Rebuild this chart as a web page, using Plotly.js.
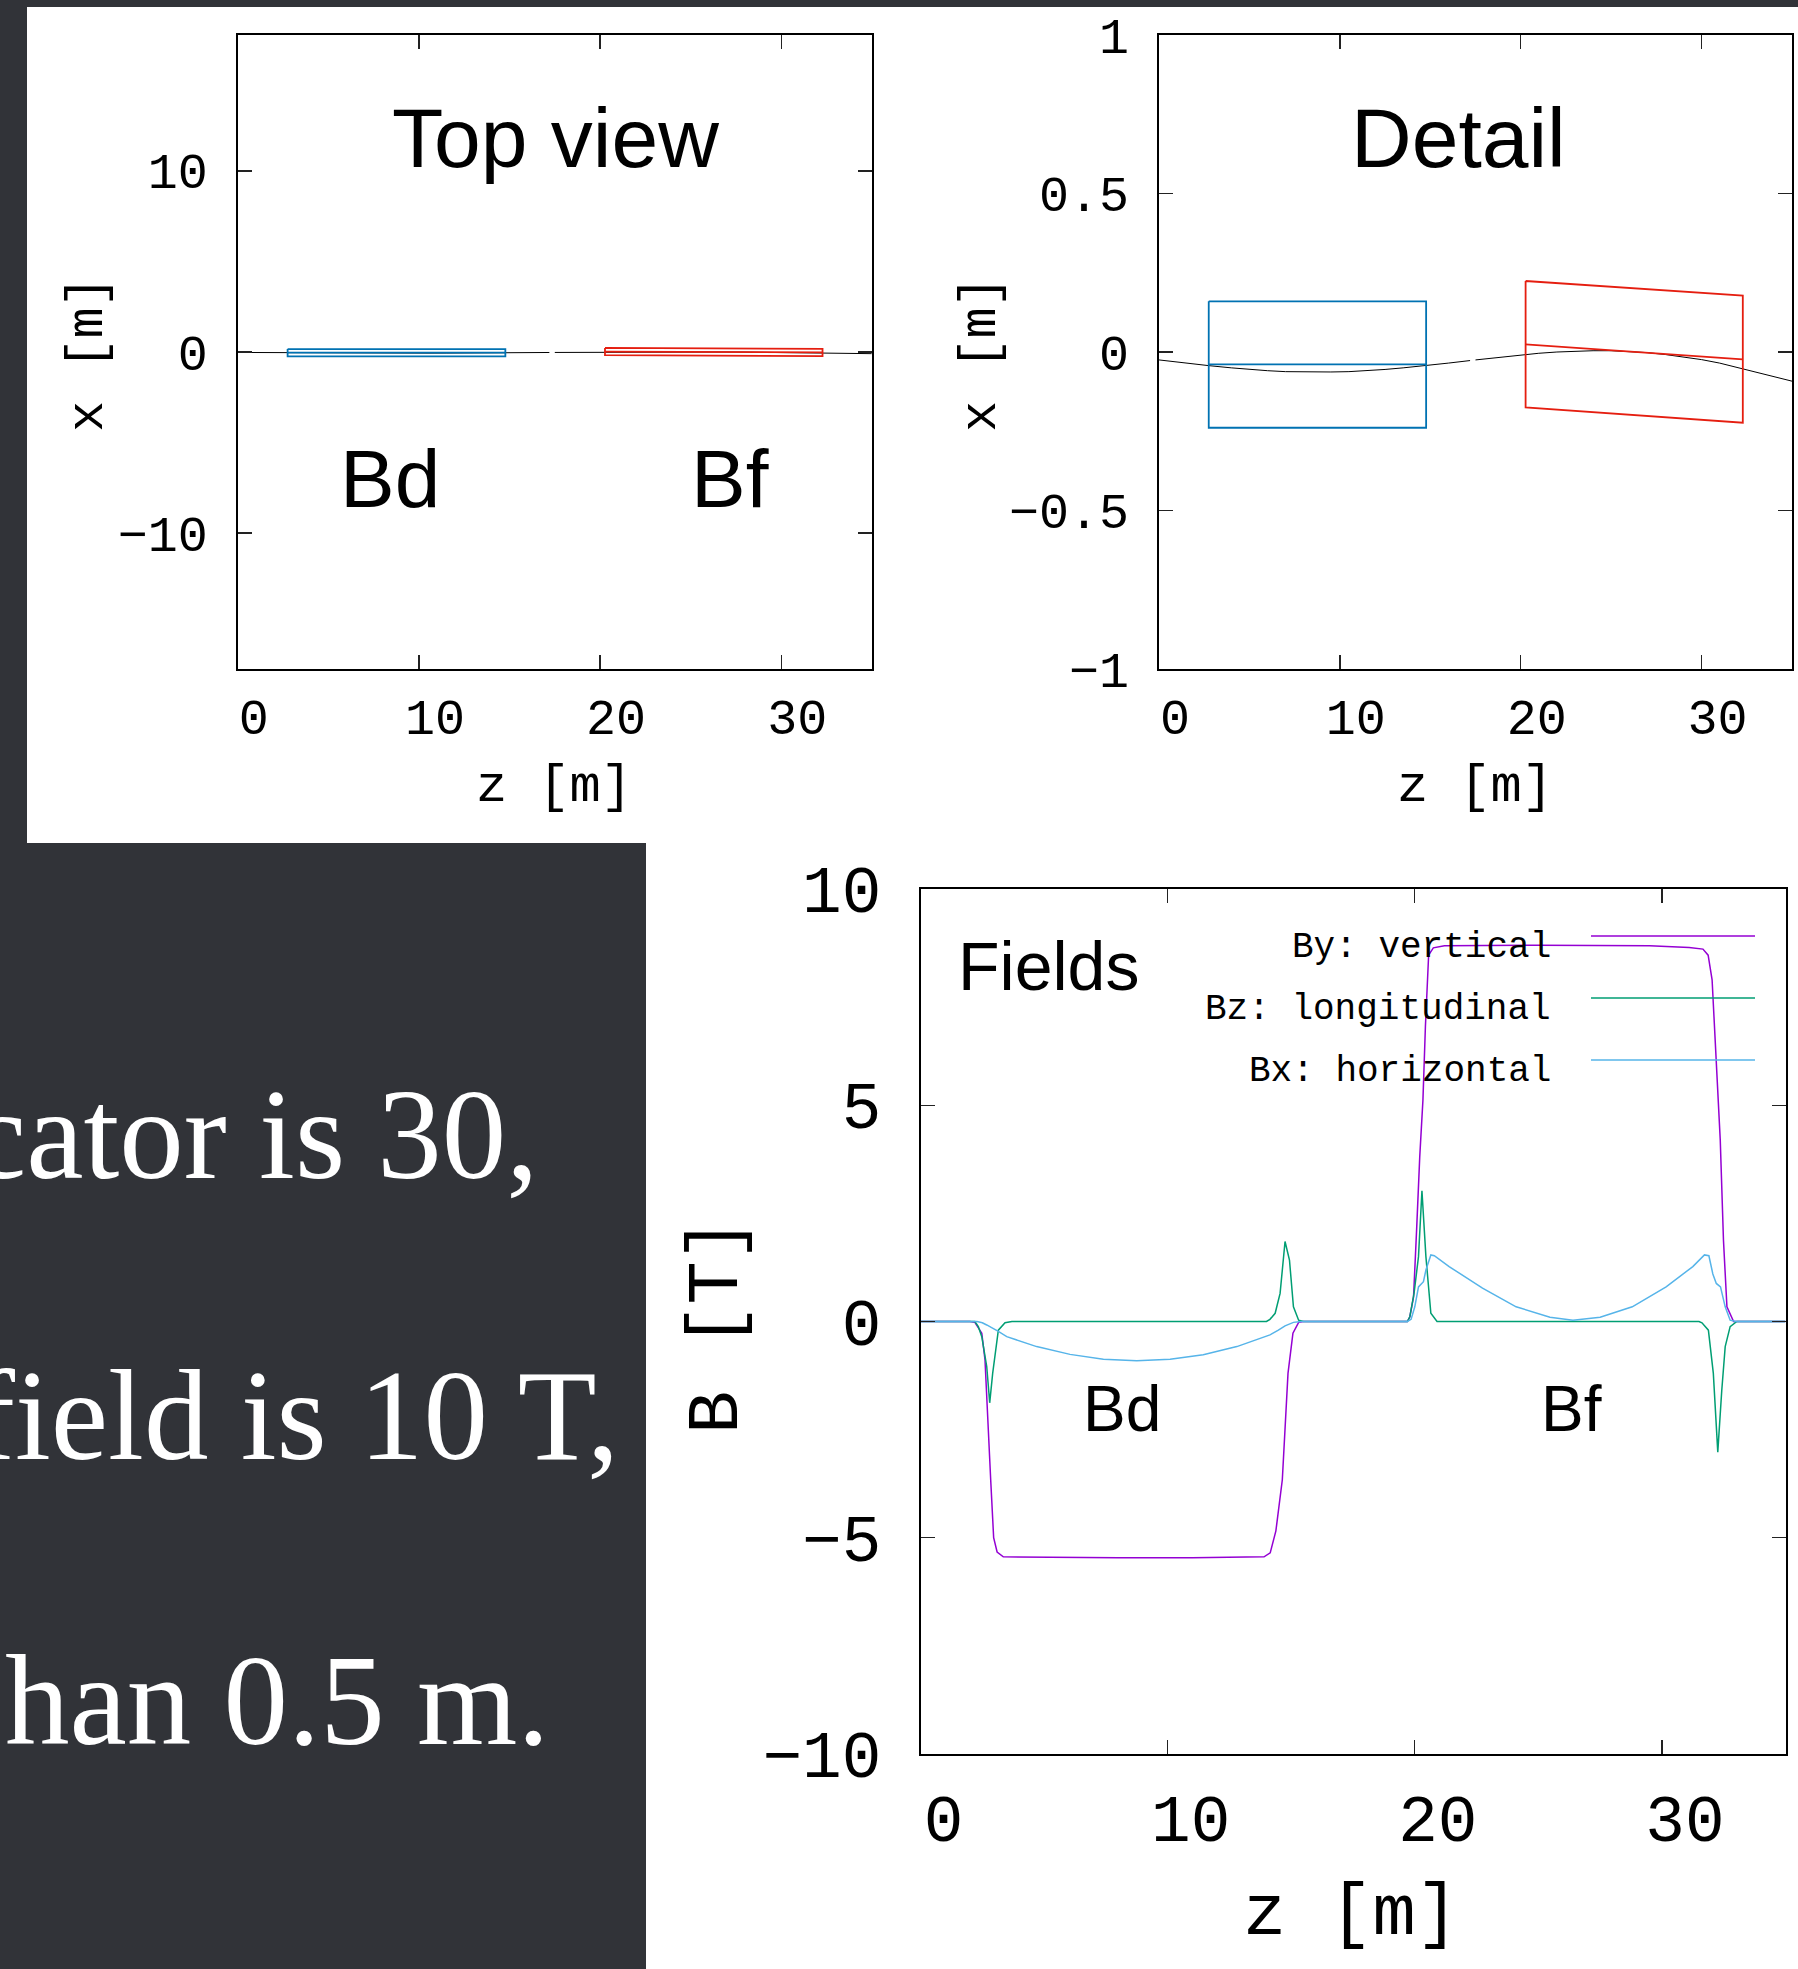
<!DOCTYPE html>
<html>
<head>
<meta charset="utf-8">
<script src="https://cdn.plot.ly/plotly-3.0.1.min.js"></script>
<style>html,body{margin:0;padding:0;background:#313338;}#chart{width:1798px;height:1969px;}</style>
</head>
<body>
<div id="chart"></div>
<script>
// ---------- data ----------
const zTicks = [0, 10, 20, 30];
const topViewYTicks = [-10, 0, 10];
const detailYTicks = [-1, -0.5, 0, 0.5, 1];
const fieldYTicks = [-10, -5, 0, 5, 10];

// reference trajectory x(z) [m]
const trajZ = [0, 1, 2, 2.75, 4, 5, 6, 7, 8, 8.75, 9.5, 10.5, 11.5, 12.5, 13.5, 14.77, 16, 17.2, null, 17.5, 19, 20.27, 21, 22, 23, 24, 25, 26, 27, 28, 29, 30, 31, 32.28, 33.5, 35];
const trajX = [-0.025, -0.032, -0.038, -0.043, -0.050, -0.055, -0.059, -0.062, -0.063, -0.064, -0.063, -0.062, -0.059, -0.055, -0.050, -0.043, -0.035, -0.027, null, -0.025, -0.016, -0.008, -0.004, 0.000, 0.003, 0.004, 0.004, 0.002, -0.002, -0.008, -0.015, -0.024, -0.035, -0.053, -0.071, -0.092];

// magnet outlines
const bdBoxZ = [2.75, 14.77, 14.77, 2.75, 2.75];
const bdBoxX = [0.160, 0.160, -0.239, -0.239, 0.160];
const bdAxisZ = [2.75, 14.77];
const bdAxisX = [-0.039, -0.039];
const bfBoxZ = [20.27, 32.28, 32.28, 20.27, 20.27];
const bfBoxX = [0.224, 0.178, -0.223, -0.175, 0.224];
const bfAxisZ = [20.27, 32.28];
const bfAxisX = [0.024, -0.023];

// fields B [T] along z
const byZ = [0, 2.0, 2.2, 2.48, 2.61, 2.74, 2.84, 2.96, 3.1, 3.35, 5, 8, 11, 13.9, 14.15, 14.38, 14.64, 14.78, 14.87, 15.07, 15.3, 15.5, 19.7, 19.8, 19.95, 20.08, 20.2, 20.33, 20.43, 20.56, 20.75, 21.2, 25, 29.5, 31.1, 31.66, 31.87, 32.03, 32.14, 32.24, 32.36, 32.49, 32.63, 32.9, 35];
const byB = [0, 0, -0.02, -0.27, -0.89, -2.28, -3.66, -5.0, -5.33, -5.44, -5.45, -5.46, -5.46, -5.44, -5.35, -4.84, -3.66, -2.3, -1.2, -0.27, -0.02, 0, 0, 0.11, 0.57, 2.2, 3.8, 5.12, 6.82, 8.47, 8.64, 8.69, 8.70, 8.69, 8.65, 8.61, 8.47, 7.9, 6.58, 5.35, 4.2, 1.88, 0.34, 0, 0];

const bzZ = [0, 2.2, 2.34, 2.48, 2.68, 2.80, 2.92, 3.02, 3.15, 3.42, 3.7, 14.0, 14.14, 14.35, 14.55, 14.75, 14.93, 15.09, 15.3, 15.5, 19.7, 19.8, 19.97, 20.15, 20.29, 20.45, 20.65, 20.9, 31.5, 31.62, 31.88, 32.08, 32.26, 32.42, 32.56, 32.76, 33.03, 35];
const bzB = [0, 0, -0.12, -0.35, -1.04, -1.88, -1.2, -0.70, -0.2, -0.03, 0, 0, 0.05, 0.19, 0.65, 1.85, 1.42, 0.34, 0.03, 0, 0, 0.11, 0.65, 1.5, 3.02, 1.5, 0.19, 0, 0, -0.03, -0.2, -1.2, -3.02, -1.6, -0.58, -0.12, 0, 0];

const bxZ = [0, 2.29, 2.5, 2.68, 3.15, 3.49, 4.70, 6.05, 7.40, 8.75, 10.1, 11.44, 12.8, 14.14, 14.48, 14.75, 15.09, 15.4, 19.7, 19.85, 20.0, 20.15, 20.35, 20.45, 20.65, 20.79, 21.39, 22.74, 24.1, 25.47, 26.4, 27.5, 28.8, 30.17, 31.25, 31.72, 31.9, 32.06, 32.2, 32.37, 32.56, 32.76, 33.0, 35];
const bxB = [0, 0, -0.03, -0.08, -0.23, -0.35, -0.58, -0.76, -0.87, -0.91, -0.87, -0.77, -0.58, -0.31, -0.2, -0.1, -0.02, 0, 0, 0.05, 0.34, 0.8, 0.92, 1.19, 1.54, 1.52, 1.27, 0.77, 0.34, 0.1, 0.03, 0.1, 0.34, 0.8, 1.27, 1.54, 1.52, 1.1, 0.88, 0.8, 0.34, 0.03, 0, 0];

const fieldNames = ['By: vertical', 'Bz: longitudinal', 'Bx: horizontal'];
const slideLines = ['cator is 30,', 'field is 10 T,', 'han 0.5 m.'];

// ---------- styles ----------
const W = 1798, H = 1969;
const px = v => v / W;
const py = v => 1 - v / H;
const DARK = '#313338';
const C_BY = '#9400d3', C_BZ = '#009e73', C_BX = '#56b4e9';
const C_BD = '#0072b2', C_BF = '#e51e10';
const MONO = '"Courier New", Courier, "Nimbus Mono PS", FreeMono, "Liberation Mono", monospace';
const TICKF = '"Liberation Mono", "DejaVu Sans Mono", monospace';
const SANS = '"Liberation Sans", Arial, Helvetica, sans-serif';
const SERIF = '"Liberation Serif", Palatino, serif';

function line(x, y, color, width, xa, ya) {
  return {x: x, y: y, mode: 'lines', type: 'scatter', xaxis: xa, yaxis: ya,
    line: {color: color, width: width}, showlegend: false, hoverinfo: 'skip', connectgaps: false};
}

const traces = [];
[['x', 'y'], ['x2', 'y2']].forEach(([xa, ya]) => {
  traces.push(line(trajZ, trajX, '#000', 1, xa, ya));
  traces.push(line(bdBoxZ, bdBoxX, C_BD, 1.8, xa, ya));
  traces.push(line(bdAxisZ, bdAxisX, C_BD, 1.8, xa, ya));
  traces.push(line(bfBoxZ, bfBoxX, C_BF, 1.8, xa, ya));
  traces.push(line(bfAxisZ, bfAxisX, C_BF, 1.8, xa, ya));
});
traces.push(line(byZ, byB, C_BY, 1.5, 'x3', 'y3'));
traces.push(line(bzZ, bzB, C_BZ, 1.5, 'x3', 'y3'));
traces.push(line(bxZ, bxB, C_BX, 1.5, 'x3', 'y3'));

function xAxis(dom, anchor, fs, shift, stand) {
  return {domain: dom, anchor: anchor, range: [0, 35], tickvals: zTicks,
    ticks: 'inside', ticklen: 14, tickwidth: 1.3, tickcolor: '#222',
    showline: true, linecolor: '#000', linewidth: 2, mirror: 'ticks',
    showgrid: false, zeroline: false, fixedrange: true,
    tickfont: {family: TICKF, size: fs, color: '#000'},
    ticklabelshift: shift, ticklabelstandoff: stand};
}
function yAxis(dom, anchor, range, tv, fs, stand) {
  return {domain: dom, anchor: anchor, range: range, tickvals: tv,
    ticks: 'inside', ticklen: 14, tickwidth: 1.3, tickcolor: '#222',
    showline: true, linecolor: '#000', linewidth: 2, mirror: 'ticks',
    showgrid: false, zeroline: false, fixedrange: true,
    tickfont: {family: TICKF, size: fs, color: '#000'},
    ticklabelstandoff: stand};
}

const topDom = [py(669), py(35)];
const layout = {
  width: W, height: H,
  margin: {l: 0, r: 0, t: 0, b: 0, pad: 0},
  paper_bgcolor: DARK, plot_bgcolor: '#fff',
  showlegend: false,
  xaxis: xAxis([px(237.8), px(871.8)], 'y', 50, 16, 3),
  yaxis: yAxis(topDom, 'x', [-17.5, 17.5], topViewYTicks, 50, 18),
  xaxis2: xAxis([px(1159), px(1792)], 'y2', 50, 16, 3),
  yaxis2: yAxis(topDom, 'x2', [-1, 1], detailYTicks, 50, 18),
  xaxis3: xAxis([px(920.5), px(1785.5)], 'y3', 66, 23, 6),
  yaxis3: yAxis([py(1754), py(889)], 'x3', [-10, 10], fieldYTicks, 66, 24),
  shapes: [
    {type: 'rect', xref: 'paper', yref: 'paper', x0: px(27), x1: 1, y0: py(843), y1: py(7), fillcolor: '#fff', line: {width: 0}, layer: 'below'},
    {type: 'rect', xref: 'paper', yref: 'paper', x0: px(646), x1: 1, y0: 0, y1: py(843), fillcolor: '#fff', line: {width: 0}, layer: 'below'},
    {type: 'line', xref: 'paper', yref: 'paper', x0: px(1591), x1: px(1755), y0: py(936), y1: py(936), line: {color: C_BY, width: 1.5}},
    {type: 'line', xref: 'paper', yref: 'paper', x0: px(1591), x1: px(1755), y0: py(998), y1: py(998), line: {color: C_BZ, width: 1.5}},
    {type: 'line', xref: 'paper', yref: 'paper', x0: px(1591), x1: px(1755), y0: py(1060), y1: py(1060), line: {color: C_BX, width: 1.5}}
  ],
  annotations: []
};

function ann(text, x, y, size, family, opts) {
  return Object.assign({text: text, xref: 'paper', yref: 'paper', x: px(x), y: py(y),
    xanchor: 'center', yanchor: 'middle', showarrow: false,
    font: {family: family, size: size, color: '#000'}}, opts || {});
}
const A = layout.annotations;
// panel labels
A.push(ann('Top view', 555, 138, 84, SANS));
A.push(ann('Bd', 390, 479, 82, SANS));
A.push(ann('Bf', 730, 479, 82, SANS));
A.push(ann('Detail', 1458, 138, 84, SANS));
A.push(ann('Fields', 1048, 966, 68, SANS));
A.push(ann('Bd', 1122, 1409, 64, SANS));
A.push(ann('Bf', 1571, 1409, 64, SANS));
// axis titles
A.push(ann('z [m]', 554, 787, 52, MONO));
A.push(ann('x [m]', 88, 354, 52, MONO, {textangle: -90}));
A.push(ann('z [m]', 1475, 787, 52, MONO));
A.push(ann('x [m]', 981, 354, 52, MONO, {textangle: -90}));
A.push(ann('z [m]', 1351, 1915, 72, MONO));
A.push(ann('B [T]', 718, 1326, 72, MONO, {textangle: -90}));
// legend texts
[957, 1019, 1081].forEach((b, i) => {
  A.push(ann(fieldNames[i], 1553, b - 10, 36, MONO, {xanchor: 'right'}));
});
// slide text
const slideRight = [541, 621, 552];
const slideBase = [1177, 1458, 1743];
slideLines.forEach((t, i) => {
  A.push(ann(t, slideRight[i], slideBase[i] - 43, 129, SERIF,
    {xanchor: 'right', font: {family: SERIF, size: 129, color: '#fff'}}));
});

Plotly.newPlot('chart', traces, layout, {staticPlot: true, displayModeBar: false});
</script>
</body>
</html>
